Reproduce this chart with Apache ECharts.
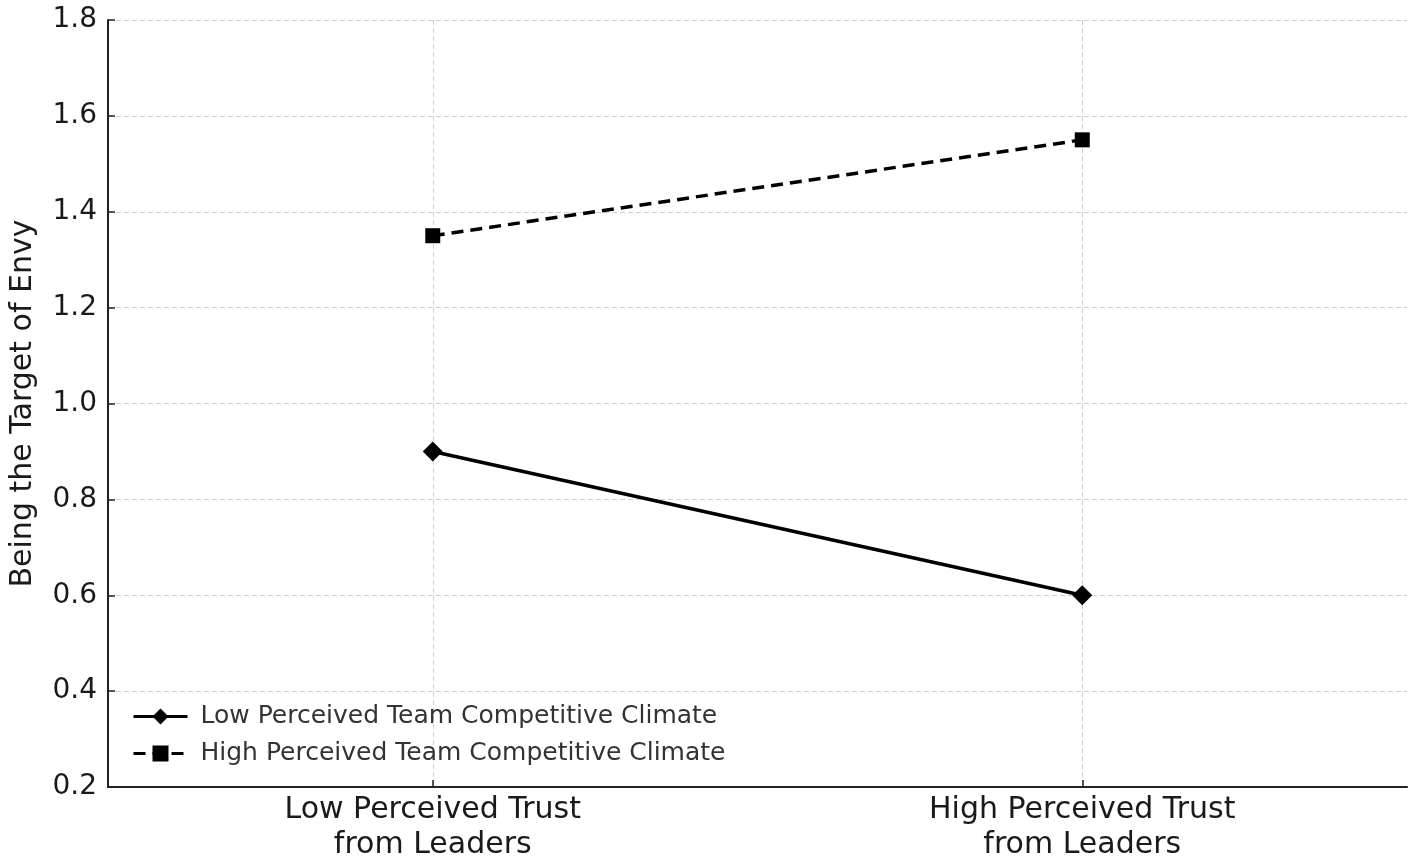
<!DOCTYPE html>
<html>
<head>
<meta charset="utf-8">
<script src="https://cdn.jsdelivr.net/npm/echarts@6/dist/echarts.min.js"></script>
<style>html,body{margin:0;padding:0;background:#fff;}#c{width:1417px;height:865px;}</style>
</head>
<body>
<div id="c"></div>
<script>
const categories = ['Low Perceived Trust\nfrom Leaders', 'High Perceived Trust\nfrom Leaders'];
const seriesNames = ['Low Perceived Team Competitive Climate', 'High Perceived Team Competitive Climate'];
const lowClimate = [0.9, 0.6];
const highClimate = [1.35, 1.55];
const yTicks = { min: 0.2, max: 1.8, interval: 0.2 };
const yTitle = 'Being the Target of Envy';

const font = 'DejaVu Sans';
const chart = echarts.init(document.getElementById('c'), null, { renderer: 'canvas' });
chart.setOption({
  animation: false,
  backgroundColor: '#ffffff',
  grid: { left: 108, right: 10, top: 20, bottom: 78, containLabel: false },
  legend: {
    orient: 'vertical', left: 127, top: 699,
    itemWidth: 54, itemHeight: 20, itemGap: 12,
    data: seriesNames,
    lineStyle: { width: 3 },
    textStyle: { fontFamily: font, fontSize: 25, color: '#333333', padding: [0, 0, 0, 8] }
  },
  xAxis: {
    type: 'category', data: categories, boundaryGap: true,
    axisLine: { lineStyle: { color: '#222', width: 2 } },
    axisTick: { show: true, inside: true, length: 7, alignWithLabel: true, lineStyle: { color: '#222', width: 1.5 } },
    axisLabel: { fontFamily: font, fontSize: 30, color: '#1a1a1a', margin: 6, lineHeight: 35 },
    splitLine: { show: true, alignWithLabel: true, lineStyle: { color: '#d0d0d0', type: [5, 3], width: 1 } }
  },
  yAxis: {
    type: 'value', min: yTicks.min, max: yTicks.max, interval: yTicks.interval,
    name: yTitle, nameLocation: 'middle', nameGap: 70,
    nameTextStyle: { fontFamily: font, fontSize: 30, color: '#1a1a1a' },
    axisLine: { show: true, lineStyle: { color: '#222', width: 2 } },
    axisTick: { show: true, inside: true, length: 7, lineStyle: { color: '#222', width: 1.5 } },
    axisLabel: { fontFamily: font, fontSize: 28, color: '#1a1a1a', margin: 11, formatter: v => v.toFixed(1) },
    splitLine: { show: true, lineStyle: { color: '#d0d0d0', type: [5, 3], width: 1 } }
  },
  series: [
    {
      name: seriesNames[0], type: 'line', data: lowClimate,
      symbol: 'diamond', symbolSize: 20,
      lineStyle: { color: '#000', width: 3.5, type: 'solid' },
      itemStyle: { color: '#000' }
    },
    {
      name: seriesNames[1], type: 'line', data: highClimate,
      symbol: 'rect', symbolSize: 15,
      lineStyle: { color: '#000', width: 3.5, type: [12, 7] },
      itemStyle: { color: '#000' }
    }
  ]
});
</script>
</body>
</html>
